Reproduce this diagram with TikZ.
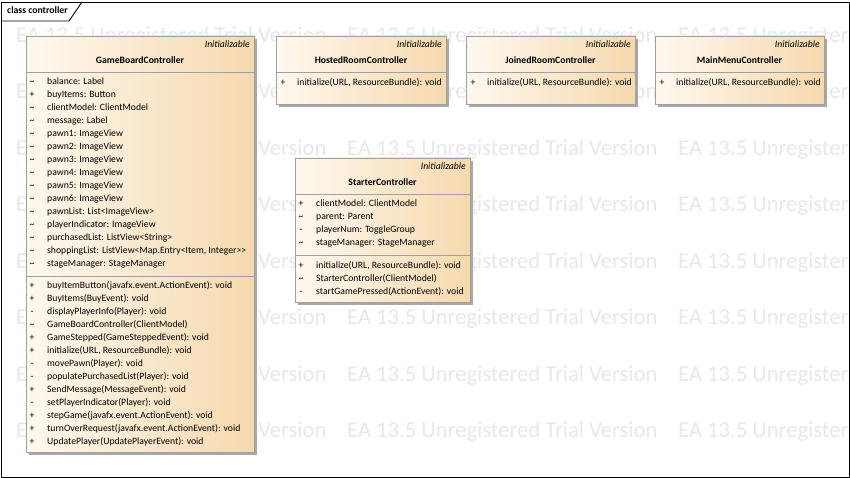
\documentclass[tikz,border=0pt]{standalone}
\usepackage{fontspec}
\newfontfamily\calfont{Carlito}
\definecolor{cl}{HTML}{FEF8EF}
\definecolor{cr}{HTML}{F6D9AE}
\definecolor{bline}{HTML}{A0A0A0}
\definecolor{shc}{HTML}{A8A8A8}
\definecolor{wmc}{HTML}{E8E8E8}
\newcommand\umlf{\calfont\fontsize{9.7}{11}\selectfont}
\newcommand\tl{\textasciitilde}
\tikzset{
  wmark/.style={anchor=mid west, inner sep=0, text=wmc, font={\calfont\fontsize{22.6}{26}\selectfont}},
  frameline/.style={draw=black, line width=0.9pt},
  title/.style={anchor=mid west, inner sep=0, font={\umlf\bfseries}},
  shbox/.style={fill=shc, draw=none, inner sep=0, outer sep=0, anchor=north west},
  cbox/.style={draw=bline, line width=0.8pt, left color=cl, right color=cr, inner sep=0, outer sep=0, anchor=north west},
  sepline/.style={draw=bline, line width=0.8pt},
  stereo/.style={anchor=mid east, inner sep=0, font={\umlf\itshape}},
  cname/.style={anchor=mid, inner sep=0, font={\umlf\bfseries}},
  vis/.style={anchor=mid, inner sep=0, font=\umlf},
  member/.style={anchor=mid west, inner sep=0, font=\umlf},
}
\begin{document}
\begin{tikzpicture}[x=1pt,y=-1pt]
\useasboundingbox (0,0) rectangle (850,478);
\fill[white] (0,0) rectangle (850,478);
% watermark
\begin{scope}
\clip (1,2) rectangle (849,477);
\foreach \r [count=\k] in {40,96.5,153,209.5,266,322.5,379,435.5} {
  \foreach \c [count=\j] in {16,347,678} {
    \node[wmark] (wm\k-\j) at (\c,\r) {EA 13.5 Unregistered Trial Version};
  }
}
\end{scope}
% frame
\draw[frameline] (1,2) rectangle (849,477);
\draw[frameline] (1,21) -- (69,21) -- (82,2);
\node[title] (title) at (7,11.5) {class controller};

% ---------- GameBoardController ----------
\node[shbox, minimum width=228pt, minimum height=416pt] (gbsh) at (29,39) {};
\node[cbox, minimum width=228pt, minimum height=416pt] (gb) at (26,36) {};
\draw[sepline] (26,72) -- (254,72);
\draw[sepline] (26,276) -- (254,276);
\node[stereo] (gbst) at (250,45) {Initializable};
\node[cname] (gbn) at (140,61) {GameBoardController};
\foreach \s/\t [count=\i] in {
  {\tl}/{balance: Label},
  {+}/{buyItems: Button},
  {\tl}/{clientModel: ClientModel},
  {\tl}/{message: Label},
  {\tl}/{pawn1: ImageView},
  {\tl}/{pawn2: ImageView},
  {\tl}/{pawn3: ImageView},
  {\tl}/{pawn4: ImageView},
  {\tl}/{pawn5: ImageView},
  {\tl}/{pawn6: ImageView},
  {\tl}/{pawnList: List<ImageView>},
  {\tl}/{playerIndicator: ImageView},
  {\tl}/{purchasedList: ListView<String>},
  {\tl}/{shoppingList: ListView<Map.Entry<Item, Integer>>},
  {\tl}/{stageManager: StageManager}} {
  \node[vis] (gbav\i) at (32,{82+13*(\i-1)}) {\s};
  \node[member] (gba\i) at (47,{82+13*(\i-1)}) {\t};
}
\foreach \s/\t [count=\i] in {
  {+}/{buyItemButton(javafx.event.ActionEvent): void},
  {+}/{BuyItems(BuyEvent): void},
  {-}/{displayPlayerInfo(Player): void},
  {\tl}/{GameBoardController(ClientModel)},
  {+}/{GameStepped(GameSteppedEvent): void},
  {+}/{initialize(URL, ResourceBundle): void},
  {-}/{movePawn(Player): void},
  {-}/{populatePurchasedList(Player): void},
  {+}/{SendMessage(MessageEvent): void},
  {-}/{setPlayerIndicator(Player): void},
  {+}/{stepGame(javafx.event.ActionEvent): void},
  {+}/{turnOverRequest(javafx.event.ActionEvent): void},
  {+}/{UpdatePlayer(UpdatePlayerEvent): void}} {
  \node[vis] (gbmv\i) at (32,{286+13*(\i-1)}) {\s};
  \node[member] (gbm\i) at (47,{286+13*(\i-1)}) {\t};
}

% ---------- small controllers ----------
\foreach \nm/\lx/\rx/\lab in {hr/276/446/HostedRoomController, jr/466/635/JoinedRoomController, mm/655/824/MainMenuController} {
  \node[shbox, minimum width={\rx-\lx}, minimum height=68pt] (\nm sh) at ({\lx+3},39) {};
  \node[cbox, minimum width={\rx-\lx}, minimum height=68pt] (\nm) at (\lx,36) {};
  \draw[sepline] (\lx,72) -- (\rx,72);
  \node[stereo] (\nm st) at ({\rx-4},45) {Initializable};
  \node[cname] (\nm n) at ({(\lx+\rx)/2},61) {\lab};
  \node[vis] (\nm mv) at ({\lx+7},83) {+};
  \node[member] (\nm m) at ({\lx+21},83) {initialize(URL, ResourceBundle): void};
}

% ---------- StarterController ----------
\node[shbox, minimum width=175pt, minimum height=144pt] (stsh) at (298,161) {};
\node[cbox, minimum width=175pt, minimum height=144pt] (st) at (295,158) {};
\draw[sepline] (295,194) -- (470,194);
\draw[sepline] (295,255) -- (470,255);
\node[stereo] (stst) at (466,167) {Initializable};
\node[cname] (stn) at (382.5,183) {StarterController};
\foreach \s/\t [count=\i] in {
  {+}/{clientModel: ClientModel},
  {\tl}/{parent: Parent},
  {-}/{playerNum: ToggleGroup},
  {\tl}/{stageManager: StageManager}} {
  \node[vis] (stav\i) at (301,{204+13*(\i-1)}) {\s};
  \node[member] (sta\i) at (316,{204+13*(\i-1)}) {\t};
}
\foreach \s/\t [count=\i] in {
  {+}/{initialize(URL, ResourceBundle): void},
  {\tl}/{StarterController(ClientModel)},
  {-}/{startGamePressed(ActionEvent): void}} {
  \node[vis] (stmv\i) at (301,{266+13*(\i-1)}) {\s};
  \node[member] (stm\i) at (316,{266+13*(\i-1)}) {\t};
}
\end{tikzpicture}
\end{document}
